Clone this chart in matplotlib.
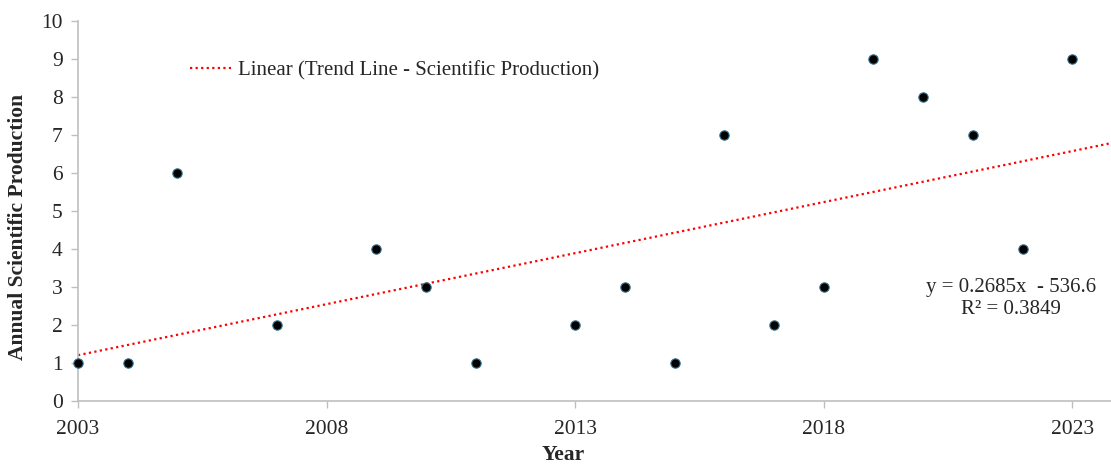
import matplotlib.pyplot as plt
import numpy as np

plt.rcParams['font.family'] = ['Liberation Serif', 'DejaVu Serif']

years = [2003, 2004, 2005, 2007, 2009, 2010, 2011, 2013, 2014, 2015,
         2016, 2017, 2018, 2019, 2020, 2021, 2022, 2023]
production = [1, 1, 6, 2, 4, 3, 1, 2, 3, 1, 7, 2, 3, 9, 8, 7, 4, 9]
slope = 0.2685
intercept = -536.6
r_squared = 0.3849
x_ticks = [2003, 2008, 2013, 2018, 2023]

fig = plt.figure(figsize=(11.11, 4.66), dpi=100)
ax = fig.add_axes([0.0702, 0.1395, 0.9298, 0.8155])

x_min, x_max = 2003, 2023.78
trend_x = np.array([x_min, x_max])
ax.plot(trend_x, slope * trend_x + intercept, color='red', linestyle=(0, (1, 1.5)),
        linewidth=1.6, label='Linear (Trend Line - Scientific Production)', zorder=2)
ax.scatter(years, production, s=45, color='black', edgecolors='#2f6f8f',
           linewidths=0.8, zorder=3, clip_on=False)

ax.set_xlim(x_min, x_max)
ax.set_ylim(0, 10)
ax.set_xticks(x_ticks)
ax.set_yticks(range(0, 11))
for s in ['top', 'right']:
    ax.spines[s].set_visible(False)
for s in ['left', 'bottom']:
    ax.spines[s].set_color('#bfbfbf')
    ax.spines[s].set_linewidth(1.2)
ax.tick_params(axis='both', colors='#bfbfbf', labelcolor='#262626', labelsize=15.5,
               length=5, width=1)
ax.tick_params(axis='x', pad=8.5)
ax.tick_params(axis='y', pad=6)

ax.set_xlabel('Year', fontsize=15.5, fontweight='bold', color='#262626')
ax.xaxis.set_label_coords(0.4695, -0.117)
ax.set_ylabel('Annual Scientific Production', fontsize=15.5, fontweight='bold',
              color='#262626')
ax.yaxis.set_label_coords(-0.048, 0.458)

leg = ax.legend(loc='upper left', bbox_to_anchor=(0.090, 0.945), frameon=False,
                fontsize=15, handlelength=2.0, handletextpad=0.3)
for t in leg.get_texts():
    t.set_color('#262626')

ax.text(0.903, 0.27, 'y = %.4fx  - %.1f\nR² = %.4f' % (slope, -intercept, r_squared),
        transform=ax.transAxes, ha='center', va='center', fontsize=15,
        color='#262626', linespacing=1.2)

fig.savefig('out.png', dpi=100)
